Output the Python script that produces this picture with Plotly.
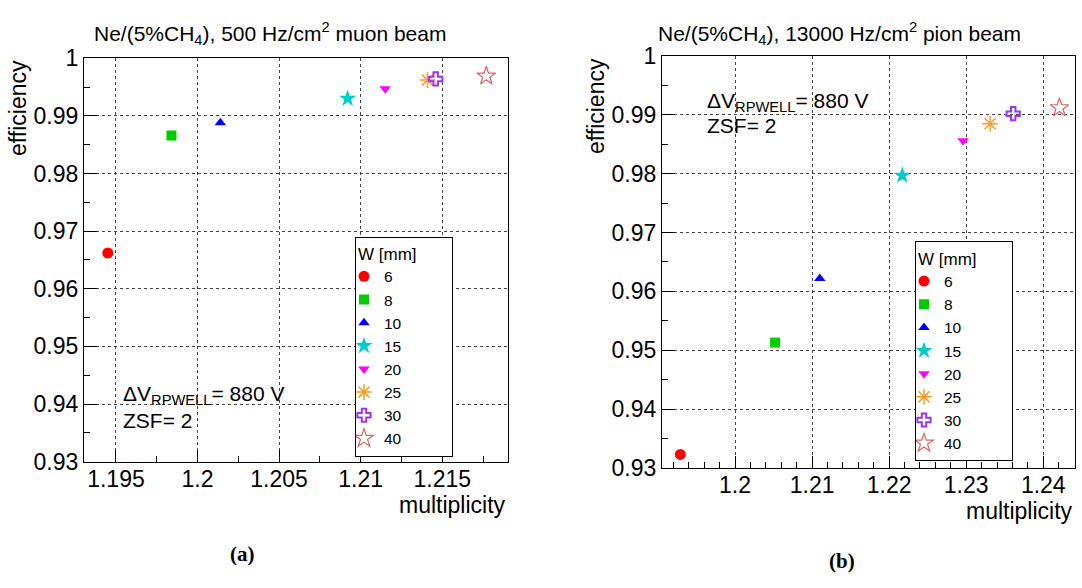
import plotly.graph_objects as go

W_labels = ["6", "8", "10", "15", "20", "25", "30", "40"]
mult_a = [1.1945, 1.1984, 1.2014, 1.2092, 1.2115, 1.2141, 1.2146, 1.2177]
eff_a = [0.9662, 0.9866, 0.9888, 0.9930, 0.9947, 0.9962, 0.9964, 0.9969]
mult_b = [1.1929, 1.2052, 1.2110, 1.2217, 1.2296, 1.2331, 1.2361, 1.2421]
eff_b = [0.9323, 0.9513, 0.9622, 0.9797, 0.9856, 0.9885, 0.9902, 0.9912]

xt_a = [1.195, 1.2, 1.205, 1.21, 1.215]
xt_a_lab = ["1.195", "1.2", "1.205", "1.21", "1.215"]
xt_b = [1.2, 1.21, 1.22, 1.23, 1.24]
xt_b_lab = ["1.2", "1.21", "1.22", "1.23", "1.24"]
yt = [0.93, 0.94, 0.95, 0.96, 0.97, 0.98, 0.99, 1.0]
yt_lab = ["0.93", "0.94", "0.95", "0.96", "0.97", "0.98", "0.99", "1"]

symbols = ["circle", "square", "triangle-up", "star", "triangle-down",
           "asterisk-open", "cross-open", "star-open"]
colors = ["#ff0000", "#00cc00", "#0000ff", "#00cccc", "#ff00ff",
          "#ff9922", "#9933ff", "#d96666"]
sizes = [11, 10, 10, 13, 10, 13, 11, 14]
lwidths = [0, 0, 0, 0, 0, 1.5, 2, 1.2]

FONT = "Liberation Sans, Arial, Helvetica, sans-serif"
W, H = 1082, 588

fig = go.Figure()
for i, lab in enumerate(W_labels):
    mk = dict(symbol=symbols[i], color=colors[i], size=sizes[i],
              line=dict(color=colors[i], width=lwidths[i]))
    fig.add_trace(go.Scatter(x=[mult_a[i]], y=[eff_a[i]], mode="markers",
                             name=lab, marker=mk, xaxis="x", yaxis="y",
                             legend="legend"))
    fig.add_trace(go.Scatter(x=[mult_b[i]], y=[eff_b[i]], mode="markers",
                             name=lab, marker=mk, xaxis="x2", yaxis="y2",
                             legend="legend2"))

def px_x(p):
    return p / W

def px_y(p):
    return 1 - p / H

axis_common = dict(
    showline=True, linecolor="black", linewidth=1.2, mirror=True,
    ticks="inside", tickcolor="black", tickwidth=1,
    showgrid=True, gridcolor="#444", griddash="dot", gridwidth=1,
    zeroline=False, tickfont=dict(family=FONT, size=23, color="black"),
)

LEG_TITLE = "W [mm]" + "&nbsp;" * 7

fig.update_layout(
    width=W, height=H, margin=dict(l=0, r=0, t=0, b=0),
    plot_bgcolor="white", paper_bgcolor="white",
    xaxis=dict(domain=[px_x(84), px_x(508.3)], range=[1.19304, 1.21905],
               tickvals=xt_a, ticktext=xt_a_lab, ticklen=12, anchor="y",
               minor=dict(dtick=0.0025, tick0=1.195, ticks="inside", ticklen=6,
                          tickcolor="black", showgrid=False),
               ticklabelstandoff=-3, **axis_common),
    yaxis=dict(domain=[px_y(469.4), px_y(47.3)], range=[0.93, 1.0],
               tickvals=yt, ticktext=yt_lab, ticklen=13, anchor="x",
               minor=dict(dtick=0.005, tick0=0.93, ticks="inside", ticklen=6,
                          tickcolor="black", showgrid=False),
               ticklabelstandoff=0, **axis_common),
    xaxis2=dict(domain=[px_x(662), px_x(1075)], range=[1.19052, 1.24412],
                tickvals=xt_b, ticktext=xt_b_lab, ticklen=12, anchor="y2",
                minor=dict(dtick=0.002, tick0=1.2, ticks="inside", ticklen=6,
                           tickcolor="black", showgrid=False),
                ticklabelstandoff=-4, **axis_common),
    yaxis2=dict(domain=[px_y(476), px_y(45)], range=[0.93, 1.0],
                tickvals=yt, ticktext=yt_lab, ticklen=13, anchor="x2",
                minor=dict(dtick=0.005, tick0=0.93, ticks="inside", ticklen=6,
                           tickcolor="black", showgrid=False),
                ticklabelstandoff=0, **axis_common),
    legend=dict(x=px_x(355), y=px_y(234), xanchor="left", yanchor="top",
                bgcolor="white", bordercolor="black", borderwidth=1,
                font=dict(family=FONT, size=15.5, color="black"),
                title=dict(text=LEG_TITLE, font=dict(family=FONT, size=17, color="black")),
                indentation=-12, tracegroupgap=0),
    legend2=dict(x=px_x(915), y=px_y(239), xanchor="left", yanchor="top",
                 bgcolor="white", bordercolor="black", borderwidth=1,
                 font=dict(family=FONT, size=15.5, color="black"),
                 title=dict(text=LEG_TITLE, font=dict(family=FONT, size=17, color="black")),
                 indentation=-12, tracegroupgap=0),
    showlegend=True,
)

def ann(text, x, y, size, xanchor="center", yanchor="middle", angle=0,
        family=FONT, bold=False):
    if bold:
        text = "<b>" + text + "</b>"
    fig.add_annotation(text=text, x=px_x(x), y=px_y(y), xref="paper",
                       yref="paper", showarrow=False, xanchor=xanchor,
                       yanchor=yanchor, textangle=angle,
                       font=dict(family=family, size=size, color="black"))

ann("Ne/(5%CH<sub>4</sub>), 500 Hz/cm<sup>2</sup> muon beam", 270, 21, 21)
ann("Ne/(5%CH<sub>4</sub>), 13000 Hz/cm<sup>2</sup> pion beam", 840, 21, 21)
ann("efficiency", 18, 47, 23, xanchor="center", yanchor="top", angle=-90)
ann("efficiency", 596, 45, 23, xanchor="center", yanchor="top", angle=-90)
ann("multiplicity", 508.3, 515, 23, xanchor="right")
ann("multiplicity", 1075, 521, 23, xanchor="right")
ann("ΔV<sub>RPWELL</sub>= 880 V", 121, 400, 21, xanchor="left")
ann("ZSF= 2", 121, 426.5, 21, xanchor="left")
ann("ΔV<sub>RPWELL</sub>= 880 V", 704.5, 93.5, 21, xanchor="left")
ann("ZSF= 2", 704.5, 117.5, 21, xanchor="left")
ann("(a)", 242, 566, 21, family="Liberation Serif, Times New Roman, serif", bold=True)
ann("(b)", 842, 573, 21, family="Liberation Serif, Times New Roman, serif", bold=True)

post = (
    "document.documentElement.style.margin='0';"
    "document.body.style.margin='0';document.body.style.padding='0';"
    "document.body.style.overflow='hidden';"
)

fig.write_html("out.html", config={"displayModeBar": False}, post_script=post)
